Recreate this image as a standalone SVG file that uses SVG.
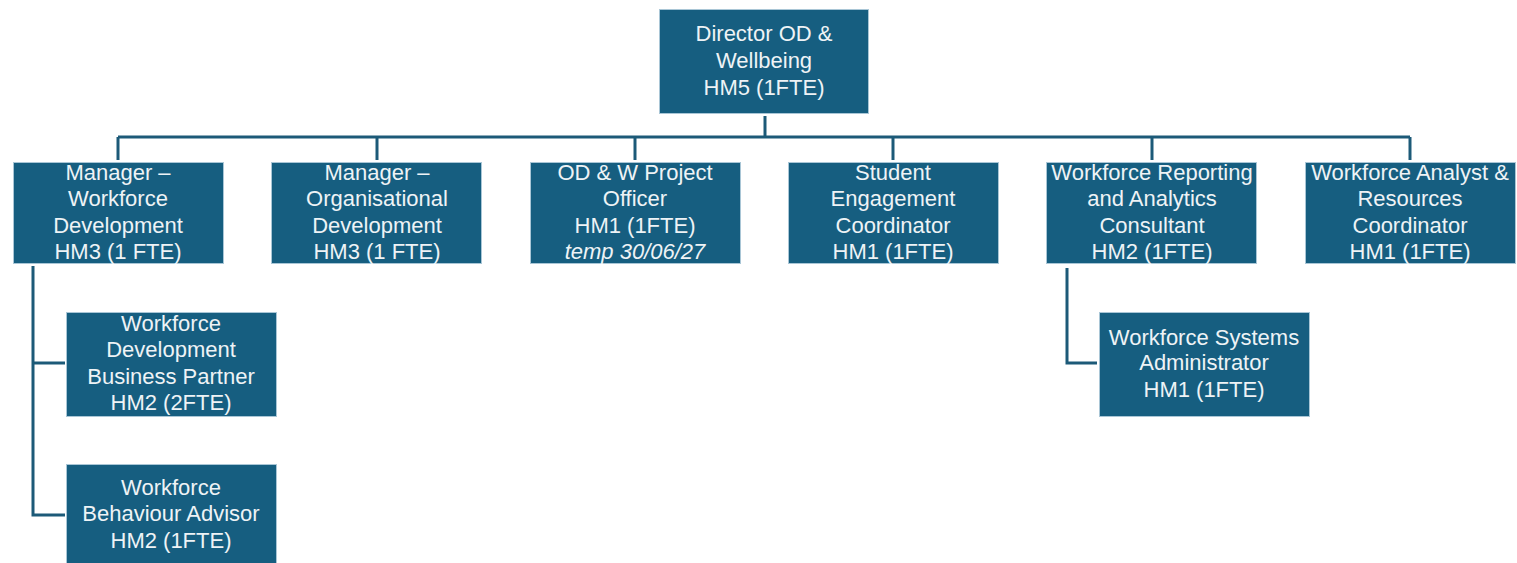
<svg xmlns="http://www.w3.org/2000/svg" width="1517" height="563" viewBox="0 0 1517 563">
  <style>
    .box { fill: #165e80; stroke: #a9c6d6; stroke-width: 1; }
    .lbl { font-family: "Liberation Sans", Arial, sans-serif; font-size: 22px; fill: #eef3f6; text-anchor: middle; }
    .it { font-style: italic; }
    .conn { fill: none; stroke: #1c5a78; stroke-width: 3; }
  </style>
  <rect width="1517" height="563" fill="#ffffff"/>

  <g id="connectors">
    <path class="conn" d="M765 116 V137"/>
    <path class="conn" d="M118 137 H1410"/>
    <path class="conn" d="M118 137 V160"/>
    <path class="conn" d="M377 137 V160"/>
    <path class="conn" d="M635 137 V160"/>
    <path class="conn" d="M893 137 V160"/>
    <path class="conn" d="M1152 137 V160"/>
    <path class="conn" d="M1410 137 V160"/>
    <path class="conn" d="M33 266 V515 H65"/>
    <path class="conn" d="M33 363 H65"/>
    <path class="conn" d="M1067 268 V363 H1097"/>
  </g>

  <g id="director">
    <rect class="box" x="659.5" y="9.5" width="209" height="104"/>
    <text class="lbl" x="764" y="41">Director OD &amp;</text>
    <text class="lbl" x="764" y="68">Wellbeing</text>
    <text class="lbl" x="764" y="95">HM5 (1FTE)</text>
  </g>

  <g id="manager-wd">
    <rect class="box" x="13.5" y="162.5" width="210" height="101"/>
    <text class="lbl" x="118" y="180">Manager –</text>
    <text class="lbl" x="118" y="206">Workforce</text>
    <text class="lbl" x="118" y="233">Development</text>
    <text class="lbl" x="118" y="259">HM3 (1 FTE)</text>
  </g>

  <g id="manager-od">
    <rect class="box" x="271.5" y="162.5" width="210" height="101"/>
    <text class="lbl" x="377" y="180">Manager –</text>
    <text class="lbl" x="377" y="206">Organisational</text>
    <text class="lbl" x="377" y="233">Development</text>
    <text class="lbl" x="377" y="259">HM3 (1 FTE)</text>
  </g>

  <g id="project-officer">
    <rect class="box" x="530.5" y="162.5" width="210" height="101"/>
    <text class="lbl" x="635" y="180">OD &amp; W Project</text>
    <text class="lbl" x="635" y="206">Officer</text>
    <text class="lbl" x="635" y="233">HM1 (1FTE)</text>
    <text class="lbl it" x="635" y="259">temp 30/06/27</text>
  </g>

  <g id="student-engagement">
    <rect class="box" x="788.5" y="162.5" width="210" height="101"/>
    <text class="lbl" x="893" y="180">Student</text>
    <text class="lbl" x="893" y="206">Engagement</text>
    <text class="lbl" x="893" y="233">Coordinator</text>
    <text class="lbl" x="893" y="259">HM1 (1FTE)</text>
  </g>

  <g id="reporting-analytics">
    <rect class="box" x="1046.5" y="162.5" width="210" height="101"/>
    <text class="lbl" x="1152" y="180">Workforce Reporting</text>
    <text class="lbl" x="1152" y="206">and Analytics</text>
    <text class="lbl" x="1152" y="233">Consultant</text>
    <text class="lbl" x="1152" y="259">HM2 (1FTE)</text>
  </g>

  <g id="analyst-resources">
    <rect class="box" x="1305.5" y="162.5" width="210" height="101"/>
    <text class="lbl" x="1410" y="180">Workforce Analyst &amp;</text>
    <text class="lbl" x="1410" y="206">Resources</text>
    <text class="lbl" x="1410" y="233">Coordinator</text>
    <text class="lbl" x="1410" y="259">HM1 (1FTE)</text>
  </g>

  <g id="wd-business-partner">
    <rect class="box" x="66.5" y="312.5" width="210" height="104"/>
    <text class="lbl" x="171" y="331">Workforce</text>
    <text class="lbl" x="171" y="357">Development</text>
    <text class="lbl" x="171" y="384">Business Partner</text>
    <text class="lbl" x="171" y="410">HM2 (2FTE)</text>
  </g>

  <g id="behaviour-advisor">
    <rect class="box" x="66.5" y="464.5" width="210" height="110"/>
    <text class="lbl" x="171" y="495">Workforce</text>
    <text class="lbl" x="171" y="521">Behaviour Advisor</text>
    <text class="lbl" x="171" y="548">HM2 (1FTE)</text>
  </g>

  <g id="systems-admin">
    <rect class="box" x="1099.5" y="312.5" width="210" height="104"/>
    <text class="lbl" x="1204" y="345">Workforce Systems</text>
    <text class="lbl" x="1204" y="370">Administrator</text>
    <text class="lbl" x="1204" y="397">HM1 (1FTE)</text>
  </g>
</svg>
